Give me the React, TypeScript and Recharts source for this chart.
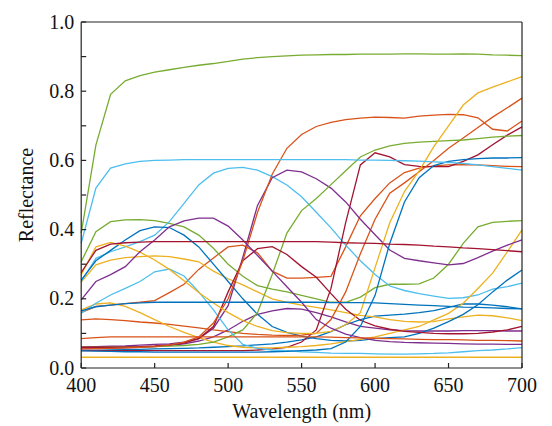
import { LineChart, Line, XAxis, YAxis } from 'recharts';

const wavelengths = [400, 410, 420, 430, 440, 450, 460, 470, 480, 490, 500, 510, 520, 530, 540, 550, 560, 570, 580, 590, 600, 610, 620, 630, 640, 650, 660, 670, 680, 690, 700];

const darkSkin = [0.05, 0.051, 0.052, 0.053, 0.054, 0.055, 0.056, 0.057, 0.058, 0.06, 0.062, 0.064, 0.067, 0.07, 0.075, 0.081, 0.09, 0.105, 0.125, 0.14, 0.15, 0.153, 0.156, 0.16, 0.166, 0.175, 0.185, 0.185, 0.182, 0.177, 0.171];
const lightSkin = [0.16, 0.178, 0.182, 0.186, 0.19, 0.195, 0.218, 0.242, 0.285, 0.318, 0.35, 0.355, 0.333, 0.28, 0.26, 0.26, 0.262, 0.265, 0.35, 0.44, 0.49, 0.535, 0.565, 0.578, 0.584, 0.587, 0.588, 0.587, 0.585, 0.583, 0.582];
const blueSky = [0.248, 0.298, 0.312, 0.319, 0.322, 0.324, 0.322, 0.315, 0.307, 0.28, 0.258, 0.24, 0.22, 0.2, 0.19, 0.182, 0.175, 0.168, 0.16, 0.152, 0.148, 0.14, 0.135, 0.133, 0.134, 0.142, 0.148, 0.153, 0.151, 0.145, 0.137];
const foliage = [0.055, 0.056, 0.057, 0.058, 0.06, 0.062, 0.065, 0.07, 0.078, 0.09, 0.11, 0.135, 0.155, 0.165, 0.172, 0.17, 0.16, 0.148, 0.133, 0.12, 0.115, 0.11, 0.108, 0.107, 0.107, 0.107, 0.108, 0.108, 0.108, 0.107, 0.107];
const blueFlower = [0.307, 0.394, 0.423, 0.428, 0.429, 0.426, 0.418, 0.408, 0.384, 0.346, 0.3, 0.265, 0.238, 0.228, 0.22, 0.21, 0.2, 0.19, 0.19, 0.205, 0.232, 0.242, 0.242, 0.243, 0.26, 0.3, 0.36, 0.408, 0.421, 0.424, 0.426];
const bluishGreen = [0.25, 0.317, 0.336, 0.35, 0.365, 0.384, 0.423, 0.476, 0.529, 0.563, 0.577, 0.58, 0.572, 0.553, 0.529, 0.495, 0.45, 0.405, 0.355, 0.31, 0.27, 0.237, 0.224, 0.215, 0.208, 0.201, 0.203, 0.211, 0.228, 0.235, 0.245];
const orange = [0.05, 0.05, 0.05, 0.05, 0.05, 0.05, 0.05, 0.05, 0.05, 0.05, 0.05, 0.05, 0.052, 0.055, 0.06, 0.075, 0.11, 0.23, 0.42, 0.587, 0.622, 0.61, 0.588, 0.583, 0.582, 0.582, 0.597, 0.616, 0.645, 0.673, 0.697];
const purplishBlue = [0.254, 0.31, 0.34, 0.37, 0.397, 0.408, 0.406, 0.384, 0.35, 0.3, 0.25, 0.2, 0.155, 0.12, 0.103, 0.092, 0.085, 0.08, 0.078, 0.08, 0.085, 0.088, 0.09, 0.1, 0.115, 0.134, 0.155, 0.183, 0.22, 0.254, 0.283];
const moderateRed = [0.139, 0.142, 0.14, 0.137, 0.133, 0.13, 0.126, 0.121, 0.116, 0.11, 0.105, 0.1, 0.097, 0.095, 0.094, 0.095, 0.1, 0.14, 0.22, 0.33, 0.43, 0.505, 0.535, 0.567, 0.6, 0.635, 0.665, 0.695, 0.725, 0.752, 0.78];
const purple = [0.168, 0.185, 0.188, 0.178, 0.16, 0.14, 0.12, 0.103, 0.088, 0.075, 0.065, 0.06, 0.058, 0.058, 0.06, 0.062, 0.065, 0.07, 0.076, 0.083, 0.09, 0.1, 0.11, 0.12, 0.139, 0.158, 0.187, 0.23, 0.274, 0.336, 0.399];
const yellowGreen = [0.06, 0.062, 0.063, 0.064, 0.066, 0.068, 0.07, 0.075, 0.085, 0.115, 0.18, 0.32, 0.47, 0.55, 0.572, 0.567, 0.547, 0.52, 0.48, 0.43, 0.385, 0.341, 0.317, 0.31, 0.304, 0.298, 0.302, 0.319, 0.338, 0.355, 0.37];
const orangeYellow = [0.06, 0.06, 0.06, 0.06, 0.061, 0.062, 0.063, 0.065, 0.068, 0.075, 0.09, 0.11, 0.16, 0.27, 0.39, 0.455, 0.49, 0.53, 0.57, 0.61, 0.63, 0.642, 0.649, 0.653, 0.655, 0.657, 0.659, 0.663, 0.667, 0.67, 0.672];
const blue = [0.158, 0.187, 0.211, 0.23, 0.25, 0.278, 0.286, 0.266, 0.22, 0.168, 0.11, 0.068, 0.057, 0.052, 0.05, 0.047, 0.045, 0.043, 0.042, 0.042, 0.041, 0.04, 0.04, 0.041, 0.042, 0.044, 0.047, 0.05, 0.052, 0.055, 0.059];
const green = [0.06, 0.06, 0.06, 0.061, 0.062, 0.064, 0.067, 0.072, 0.085, 0.12, 0.22, 0.31, 0.345, 0.351, 0.328, 0.293, 0.262, 0.215, 0.17, 0.138, 0.122, 0.112, 0.106, 0.103, 0.1, 0.099, 0.099, 0.1, 0.104, 0.11, 0.12];
const red = [0.05, 0.049, 0.048, 0.047, 0.047, 0.046, 0.046, 0.046, 0.046, 0.046, 0.046, 0.046, 0.046, 0.047, 0.048, 0.05, 0.052, 0.056, 0.075, 0.12, 0.21, 0.36, 0.48, 0.55, 0.585, 0.597, 0.602, 0.605, 0.607, 0.607, 0.608];
const yellow = [0.055, 0.056, 0.057, 0.058, 0.06, 0.062, 0.066, 0.075, 0.09, 0.13, 0.2, 0.31, 0.45, 0.56, 0.635, 0.675, 0.698, 0.71, 0.718, 0.722, 0.725, 0.724, 0.722, 0.728, 0.731, 0.733, 0.732, 0.723, 0.69, 0.685, 0.714];
const magenta = [0.27, 0.35, 0.363, 0.352, 0.335, 0.312, 0.285, 0.252, 0.218, 0.188, 0.16, 0.137, 0.12, 0.108, 0.102, 0.1, 0.1, 0.106, 0.125, 0.16, 0.29, 0.42, 0.51, 0.57, 0.64, 0.7, 0.76, 0.795, 0.812, 0.827, 0.842];
const cyan = [0.197, 0.25, 0.27, 0.293, 0.336, 0.37, 0.408, 0.425, 0.433, 0.433, 0.41, 0.37, 0.325, 0.28, 0.235, 0.19, 0.14, 0.115, 0.098, 0.088, 0.08, 0.076, 0.074, 0.073, 0.072, 0.071, 0.07, 0.069, 0.069, 0.068, 0.068];
const white = [0.39, 0.644, 0.791, 0.83, 0.845, 0.855, 0.862, 0.869, 0.875, 0.88, 0.886, 0.893, 0.897, 0.9, 0.902, 0.904, 0.905, 0.906, 0.906, 0.907, 0.907, 0.907, 0.908, 0.908, 0.907, 0.907, 0.908, 0.907, 0.905, 0.904, 0.903];
const neutral8 = [0.36, 0.52, 0.578, 0.59, 0.597, 0.6, 0.601, 0.602, 0.602, 0.602, 0.602, 0.602, 0.602, 0.602, 0.602, 0.602, 0.602, 0.602, 0.602, 0.601, 0.601, 0.6, 0.599, 0.598, 0.596, 0.594, 0.591, 0.587, 0.582, 0.577, 0.572];
const neutral65 = [0.276, 0.34, 0.358, 0.362, 0.364, 0.365, 0.365, 0.365, 0.365, 0.365, 0.365, 0.365, 0.365, 0.365, 0.365, 0.365, 0.365, 0.364, 0.362, 0.361, 0.36, 0.358, 0.357, 0.355, 0.352, 0.35, 0.347, 0.345, 0.342, 0.339, 0.336];
const neutral5 = [0.165, 0.177, 0.182, 0.186, 0.188, 0.19, 0.19, 0.19, 0.19, 0.19, 0.19, 0.19, 0.19, 0.19, 0.19, 0.19, 0.19, 0.189, 0.189, 0.189, 0.188, 0.186, 0.184, 0.182, 0.18, 0.178, 0.176, 0.175, 0.174, 0.172, 0.171];
const neutral35 = [0.085, 0.088, 0.09, 0.09, 0.09, 0.09, 0.09, 0.09, 0.09, 0.09, 0.09, 0.09, 0.09, 0.09, 0.09, 0.09, 0.09, 0.089, 0.088, 0.087, 0.086, 0.085, 0.084, 0.083, 0.082, 0.082, 0.081, 0.08, 0.08, 0.079, 0.078];
const black = [0.031, 0.031, 0.031, 0.031, 0.031, 0.031, 0.031, 0.031, 0.031, 0.031, 0.031, 0.031, 0.031, 0.031, 0.031, 0.031, 0.031, 0.031, 0.031, 0.031, 0.031, 0.031, 0.031, 0.031, 0.031, 0.031, 0.031, 0.031, 0.031, 0.031, 0.031];

const xTicks = [400, 450, 500, 550, 600, 650, 700];
const yTicks = [0, 0.1, 0.2, 0.3, 0.4, 0.5, 0.6, 0.7, 0.8, 0.9, 1.0];

// matlab default color order, cycled over the 24 patches
const palette = ['#0072BD', '#D95319', '#EDB120', '#7E2F8E', '#77AC30', '#4DBEEE', '#A2142F'];

const patches = [
  darkSkin, lightSkin, blueSky, foliage, blueFlower, bluishGreen,
  orange, purplishBlue, moderateRed, purple, yellowGreen, orangeYellow,
  blue, green, red, yellow, magenta, cyan,
  white, neutral8, neutral65, neutral5, neutral35, black,
];

const data = wavelengths.map((w, i) => {
  const row: Record<string, number> = { w };
  patches.forEach((p, k) => {
    row['p' + k] = p[i];
  });
  return row;
});

const font = "'Liberation Serif', 'Times New Roman', 'DejaVu Serif', serif";
const textStyle = { fontFamily: font, fontSize: 20, fill: '#111' };
const frame = { stroke: '#222', strokeWidth: 1.2 };

const XTick = ({ x, y, payload }: any) => (
  <text x={x} y={y} dy={13.5} textAnchor="middle" style={textStyle}>
    {payload.value}
  </text>
);

const YTick = ({ x, y, payload }: any) => {
  const v = payload.value as number;
  if (Math.round(v * 10) % 2 !== 0) return <g />;
  return (
    <text x={x} y={y} dy={6.5} textAnchor="end" style={textStyle}>
      {v.toFixed(1)}
    </text>
  );
};

export default function App() {
  return (
    <div style={{ width: 544, height: 418, background: '#fff' }}>
      <LineChart
        width={544}
        height={418}
        data={data}
        margin={{ top: 13, right: 29, bottom: 0, left: 0 }}
      >
        <XAxis
          dataKey="w"
          type="number"
          domain={[400, 700]}
          ticks={xTicks}
          height={58}
          axisLine={frame}
          tickLine={frame}
          tickSize={-5}
          tickMargin={15}
          tick={<XTick />}
          label={{
            value: 'Wavelength (nm)',
            position: 'insideBottom',
            offset: 8,
            style: textStyle,
          }}
        />
        <XAxis
          xAxisId="top"
          orientation="top"
          type="number"
          domain={[400, 700]}
          ticks={xTicks}
          height={1}
          axisLine={frame}
          tickLine={frame}
          tickSize={-5}
          tick={false}
        />
        <YAxis
          type="number"
          domain={[0, 1]}
          ticks={yTicks}
          width={73.2}
          axisLine={frame}
          tickLine={frame}
          tickSize={-5}
          tickMargin={12}
          tick={<YTick />}
          label={{
            value: 'Reflectance',
            angle: -90,
            position: 'insideLeft',
            offset: 18,
            style: { ...textStyle, textAnchor: 'middle' },
          }}
        />
        <YAxis
          yAxisId="right"
          orientation="right"
          type="number"
          domain={[0, 1]}
          ticks={yTicks}
          width={1}
          axisLine={frame}
          tickLine={frame}
          tickSize={-5}
          tick={false}
        />
        {patches.map((_, k) => (
          <Line
            key={k}
            type="linear"
            dataKey={'p' + k}
            stroke={palette[k % palette.length]}
            strokeWidth={1.3}
            dot={false}
            activeDot={false}
            isAnimationActive={false}
          />
        ))}
      </LineChart>
    </div>
  );
}
